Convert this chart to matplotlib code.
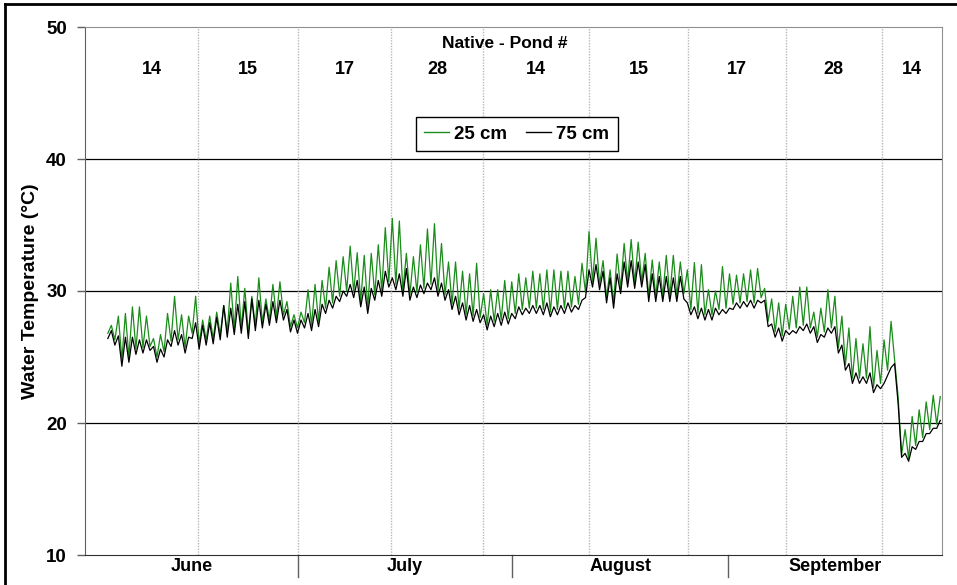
import matplotlib
matplotlib.use("Agg")
import matplotlib.pyplot as plt
from matplotlib.lines import Line2D
import numpy as np

plt.rcParams["font.family"] = ["Liberation Sans", "DejaVu Sans"]
plt.rcParams["font.weight"] = "bold"

# day 0 = June 1; one low (night) and one high (afternoon) reading per day
first_day = 3
green_hi = [27.4, 28.1, 28.3, 28.8, 28.8, 28.1, 26.4, 26.7, 28.3, 29.6, 28.2, 28.1,
            29.6, 27.8, 28.1, 28.4, 28.9, 30.6, 31.1, 30.2, 29.6, 31.0, 29.4, 30.5, 30.7, 29.2, 28.2,
            28.4, 30.1, 30.5, 30.8, 31.8, 32.3, 32.6, 33.4, 32.9, 32.7, 32.85, 33.5, 34.8, 35.5,
            35.3, 32.85, 32.6, 33.5, 34.7, 35.1, 33.6, 32.2, 32.2, 31.5, 31.3, 32.1,
            29.8, 30.1, 30.1, 30.8, 30.7, 31.3, 31.0, 31.5, 31.3, 31.6, 31.6, 31.5, 31.5, 31.1, 32.1,
            34.5, 34.0, 32.3, 31.6, 32.8, 33.6, 33.9, 33.7, 32.85, 32.35, 32.2, 32.7, 32.7, 32.2,
            31.6, 32.15, 32.0, 30.1, 30.0, 31.85, 31.3, 31.2, 31.3, 31.6, 31.7, 30.2, 29.4, 29.1,
            29.0, 29.6, 30.3, 30.3, 28.4, 28.7, 30.1, 29.6, 28.1, 27.2, 26.4, 26.0, 27.3, 25.5,
            26.3, 27.7, 22.0, 19.5, 20.5, 21.0, 21.6, 22.1, 22.0]
green_lo = [26.8, 26.3, 24.8, 25.0, 25.6, 25.7, 25.8, 25.0, 25.4, 26.2, 26.3, 25.7,
            26.8, 26.0, 26.3, 26.4, 26.7, 26.9, 27.1, 27.2, 26.8, 27.4, 27.6, 27.8, 28.0, 28.2, 27.3,
            27.2, 27.6, 27.4, 27.7, 28.7, 29.1, 29.6, 30.0, 29.9, 29.2, 28.7, 29.7, 30.0, 30.7,
            30.5, 30.0, 29.7, 29.9, 30.2, 30.5, 30.0, 29.7, 29.0, 28.6, 28.2, 28.1,
            28.0, 27.4, 27.7, 27.8, 27.9, 28.3, 28.6, 28.7, 28.7, 28.6, 28.4, 28.6, 28.7, 28.8, 29.0,
            29.9, 30.7, 30.5, 29.5, 29.1, 30.2, 30.7, 30.6, 30.7, 29.6, 29.6, 29.6, 29.6, 29.6,
            29.8, 28.6, 28.3, 28.2, 28.2, 28.6, 28.7, 29.0, 29.1, 29.2, 29.1, 29.5, 27.7, 26.9,
            26.6, 27.1, 27.2, 27.4, 27.2, 26.5, 26.9, 27.2, 25.7, 24.4, 23.4, 23.4, 23.4, 22.7,
            23.0, 24.0, 24.8, 17.6, 17.3, 18.3, 18.9, 19.5, 19.9]
black_hi = [27.0, 26.6, 26.5, 26.5, 26.3, 26.3, 25.8, 25.6, 26.3, 27.0, 26.7, 26.5,
            27.6, 27.4, 27.6, 28.0, 28.9, 28.7, 29.0, 29.2, 29.4, 29.3, 29.0, 29.2, 29.3, 28.6, 27.8,
            27.8, 28.3, 28.6, 29.0, 29.3, 29.6, 30.0, 30.5, 30.8, 30.3, 30.2, 30.8, 31.5, 31.0,
            31.3, 31.7, 30.3, 30.45, 30.6, 31.0, 30.6, 30.1, 29.6, 29.1, 28.9, 28.6,
            28.2, 28.1, 28.3, 28.4, 28.3, 28.8, 28.7, 28.9, 28.9, 29.1, 28.8, 28.9, 29.1, 28.9, 29.3,
            31.6, 32.0, 31.5, 31.0, 31.3, 32.2, 32.3, 32.2, 32.0, 31.3, 31.1, 31.1, 31.0, 31.1,
            29.1, 28.8, 28.7, 28.6, 28.7, 28.6, 28.7, 29.1, 29.2, 29.3, 29.3, 29.3, 27.5, 27.2,
            27.0, 27.0, 27.3, 27.5, 27.3, 26.7, 27.2, 27.3, 25.9, 24.5, 23.8, 23.5, 23.8, 22.9,
            23.0, 24.2, 21.5, 17.7, 18.2, 18.6, 19.2, 19.6, 20.2]
black_lo = [26.4, 25.9, 24.3, 24.6, 25.2, 25.3, 25.5, 24.6, 25.0, 25.8, 25.9, 25.3,
            26.4, 25.6, 25.9, 26.0, 26.3, 26.5, 26.7, 26.8, 26.4, 27.0, 27.2, 27.4, 27.6, 27.8, 26.9,
            26.8, 27.2, 27.0, 27.3, 28.3, 28.7, 29.2, 29.6, 29.5, 28.8, 28.3, 29.3, 29.6, 30.3,
            30.1, 29.6, 29.3, 29.5, 29.8, 30.1, 29.6, 29.3, 28.6, 28.2, 27.8, 27.7,
            27.6, 27.05, 27.3, 27.4, 27.5, 27.9, 28.2, 28.3, 28.3, 28.2, 28.05, 28.2, 28.3, 28.4, 28.6,
            29.5, 30.3, 30.1, 29.1, 28.7, 29.8, 30.3, 30.2, 30.3, 29.2, 29.2, 29.2, 29.2, 29.2,
            29.4, 28.2, 27.9, 27.8, 27.8, 28.2, 28.3, 28.6, 28.7, 28.8, 28.7, 29.1, 27.3, 26.5,
            26.2, 26.7, 26.8, 27.0, 26.8, 26.1, 26.5, 26.8, 25.3, 24.0, 23.0, 23.0, 23.0, 22.3,
            22.6, 23.6, 24.5, 17.4, 17.1, 18.0, 18.6, 19.2, 19.6]

pond_labels = ["14", "15", "17", "28", "14", "15", "17", "28", "14"]
pond_edges = [2.9, 16.1, 30.3, 43.6, 56.7, 71.8, 85.9, 99.8, 113.4, 122.0]
months = ["June", "July", "August", "September"]
month_edges = [0.0, 30.3, 60.8, 91.6, 122.0]


def day_series(lo, hi):
    days = first_day + np.arange(len(lo))
    x = np.column_stack([days + 0.25, days + 0.75]).ravel()
    y = np.column_stack([lo, hi]).ravel()
    return x, y


fig = plt.figure(figsize=(9.57, 5.85), dpi=100)
ax = fig.add_axes([85 / 957, 30 / 585, 857 / 957, 528 / 585])

green = "#1a8c1a"
xg, yg = day_series(green_lo, green_hi)
xb, yb = day_series(black_lo, black_hi)
ax.plot(xg, yg, color=green, lw=0.9, zorder=3)
ax.plot(xb, yb, color="black", lw=0.9, zorder=4)

ax.set_xlim(month_edges[0], month_edges[-1])
ax.set_ylim(10, 50)
ax.set_yticks([10, 20, 30, 40, 50])
for v in [20, 30, 40]:
    ax.axhline(v, color="black", lw=0.9, zorder=1)

# pond rotation dividers
for e in pond_edges[1:-1]:
    ax.axvline(e, color="#b8b8b8", lw=1.0, ls=(0, (1, 1)), zorder=2)
for i, lab in enumerate(pond_labels):
    ax.text((pond_edges[i] + pond_edges[i + 1]) / 2, 46.8, lab, ha="center", va="center",
            fontsize=13, fontweight="bold")
ax.text(59.8, 48.75, "Native - Pond #", ha="center", va="center", fontsize=12.5, fontweight="bold")

# month axis
ax.set_xticks([])
trans = ax.get_xaxis_transform()
for e in month_edges[1:-1]:
    ax.plot([e, e], [0, -0.042], transform=trans, color="#606060", lw=1.0, clip_on=False)
for i, m in enumerate(months):
    ax.text((month_edges[i] + month_edges[i + 1]) / 2, -0.022, m, transform=trans,
            ha="center", va="center", fontsize=13, fontweight="bold")

ax.tick_params(axis="y", length=6, width=1, color="#606060", pad=7, labelsize=13.5)
for lbl in ax.get_yticklabels():
    lbl.set_fontweight("bold")
ax.set_ylabel("Water Temperature (\u00b0C)", fontsize=14, fontweight="bold", labelpad=5)

for side in ["top", "right"]:
    ax.spines[side].set_color("#909090")
ax.spines["left"].set_color("#606060")
ax.spines["bottom"].set_color("#303030")

handles = [Line2D([], [], color=green, lw=1.0), Line2D([], [], color="black", lw=1.0)]
leg = fig.legend(handles, ["25 cm", "75 cm"], loc="upper left",
                 bbox_to_anchor=(416 / 957, 1 - 117 / 585), ncol=2, frameon=True,
                 fancybox=False, framealpha=1, edgecolor="black", handlelength=1.3,
                 handletextpad=0.3, columnspacing=1.0, borderpad=0.45, borderaxespad=0,
                 prop={"size": 13.5, "weight": "bold"})
leg.get_frame().set_linewidth(1.0)

# outer border of the chart image
fig.add_artist(Line2D([5 / 957, 1], [1 - 4 / 585, 1 - 4 / 585], transform=fig.transFigure,
                      color="black", lw=2))
fig.add_artist(Line2D([5 / 957, 5 / 957], [0, 1 - 4 / 585], transform=fig.transFigure,
                      color="black", lw=2))

fig.savefig("out.png", dpi=100)
